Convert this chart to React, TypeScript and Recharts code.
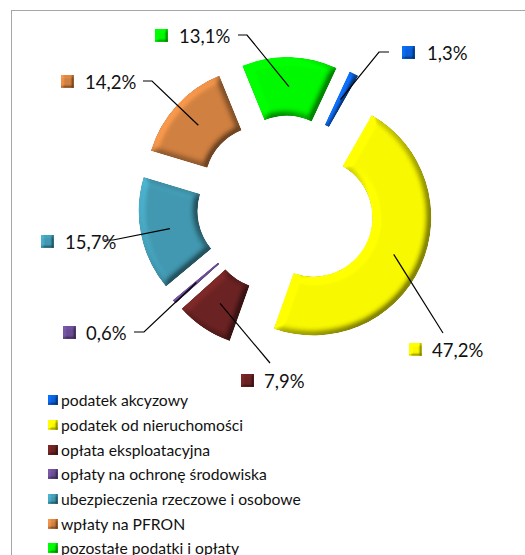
import React from "react"
import { PieChart, Pie, Legend, Sector } from "recharts"

const categories = [
  "podatek akcyzowy",
  "podatek od nieruchomości",
  "opłata eksploatacyjna",
  "opłaty na ochronę środowiska",
  "ubezpieczenia rzeczowe i osobowe",
  "wpłaty na PFRON",
  "pozostałe podatki i opłaty",
]
const shares = [1.3, 47.2, 7.9, 0.6, 15.7, 14.2, 13.1]
const colors = ["#0a5fd8", "#f8f800", "#6b2222", "#6a4c93", "#4198b0", "#d08040", "#00f800"]

// label box placement, relative to the chart: marker x, text y, elbow and so on
const labelSpots = [
  { mx: 402, ty: 53, tx: 427, elbow: [379, 52], end: [389, 52] },
  { mx: 409, ty: 350, tx: 432, elbow: null, end: [443, 333] },
  { mx: 241, ty: 381, tx: 264, elbow: null, end: [270, 363] },
  { mx: 63, ty: 333, tx: 86, elbow: [144, 332], end: [134, 332] },
  { mx: 41, ty: 242, tx: 65, elbow: [113, 240], end: [104, 240] },
  { mx: 61, ty: 82, tx: 85, elbow: [152, 81], end: [143, 81] },
  { mx: 155, ty: 36, tx: 179, elbow: [247, 35], end: [238, 35] },
]

const tableData = categories.map((name, i) => ({ name, value: shares[i], fill: colors[i] }))

const EXPLODE = 30
const RADIAN = Math.PI / 180
const FONT = "Lato, Carlito, sans-serif"

const explode = (midAngle: number) => ({
  dx: EXPLODE * Math.cos(-midAngle * RADIAN),
  dy: EXPLODE * Math.sin(-midAngle * RADIAN),
})

const BevelSlice = (props: any) => {
  const { dx, dy } = explode(props.midAngle)
  return (
    <Sector
      cx={props.cx + dx}
      cy={props.cy + dy}
      innerRadius={props.innerRadius}
      outerRadius={props.outerRadius}
      startAngle={props.startAngle}
      endAngle={props.endAngle}
      fill={props.fill}
      stroke="none"
      filter="url(#bevel)"
    />
  )
}

const renderLabel = (props: any) => {
  const { cx, cy, midAngle, innerRadius, outerRadius, index } = props
  const { dx, dy } = explode(midAngle)
  const r = (innerRadius + outerRadius) / 2
  const x = cx + dx + r * Math.cos(-midAngle * RADIAN)
  const y = cy + dy + r * Math.sin(-midAngle * RADIAN)
  const spot = labelSpots[index]
  const pts = [[x, y], spot.elbow, spot.end].filter(Boolean) as number[][]
  return (
    <g key={index}>
      <polyline points={pts.map((p) => p.join(",")).join(" ")} fill="none" stroke="#000" strokeWidth={1.2} />
      <rect x={spot.mx} y={spot.ty - 7} width={13} height={13} fill={colors[index]} filter="url(#bevelSmall)" />
      <text x={spot.tx} y={spot.ty} fontFamily={FONT} fontSize={18.5} fill="#111" dominantBaseline="central">
        {shares[index].toFixed(1).replace(".", ",") + "%"}
      </text>
    </g>
  )
}

const renderLegend = ({ payload }: any) => (
  <div style={{ fontFamily: FONT, fontSize: 15.7, color: "#111" }}>
    {payload.map((entry: any, i: number) => (
      <div key={i} style={{ height: 24.7, display: "flex", alignItems: "center" }}>
        <svg width={10} height={10} style={{ marginRight: 3, flex: "none" }}>
          <rect width={10} height={10} fill={colors[i]} filter="url(#bevelSmall)" />
        </svg>
        <span style={{ whiteSpace: "nowrap" }}>{entry.value}</span>
      </div>
    ))}
  </div>
)

export default function App() {
  return (
    <div style={{ position: "absolute", left: 0, top: 0, width: 525, height: 555, overflow: "hidden", background: "#fff" }}>
      <svg width={0} height={0} style={{ position: "absolute" }}>
        <defs>
          <filter id="bevel" x="-25%" y="-25%" width="150%" height="150%" colorInterpolationFilters="sRGB">
            <feGaussianBlur in="SourceAlpha" stdDeviation={3.5} result="blur" />
            <feDiffuseLighting in="blur" surfaceScale={6} diffuseConstant={1} lightingColor="#fff" result="diff">
              <feDistantLight azimuth={215} elevation={45} />
            </feDiffuseLighting>
            <feComposite in="SourceGraphic" in2="diff" operator="arithmetic" k1={0.64} k2={0.55} result="lit" />
            <feComposite in="lit" in2="SourceAlpha" operator="in" />
          </filter>
          <filter id="bevelSmall" x="0" y="0" width="100%" height="100%" colorInterpolationFilters="sRGB">
            <feGaussianBlur in="SourceAlpha" stdDeviation={1.5} result="blur" />
            <feDiffuseLighting in="blur" surfaceScale={3} diffuseConstant={1} lightingColor="#fff" result="diff">
              <feDistantLight azimuth={215} elevation={45} />
            </feDiffuseLighting>
            <feComposite in="SourceGraphic" in2="diff" operator="arithmetic" k1={0.64} k2={0.55} result="lit" />
            <feComposite in="lit" in2="SourceAlpha" operator="in" />
          </filter>
        </defs>
      </svg>
      <div
        style={{
          position: "absolute",
          left: 11,
          top: 10,
          width: 530,
          height: 560,
          border: "1.5px solid #a6a6a6",
          boxSizing: "border-box",
        }}
      />
      <PieChart width={525} height={555} margin={{ top: 0, right: 0, bottom: 0, left: 0 }} style={{ position: "absolute", left: 0, top: 0 }}>
        <Pie
          data={tableData}
          dataKey="value"
          nameKey="name"
          cx={286}
          cy={205}
          innerRadius={59}
          outerRadius={118}
          startAngle={65}
          endAngle={-295}
          stroke="none"
          shape={BevelSlice}
          label={renderLabel}
          labelLine={false}
          isAnimationActive={false}
        />
        <Legend
          content={renderLegend}
          layout="vertical"
          align="center"
          verticalAlign="middle"
          itemSorter={null}
          wrapperStyle={{ left: 48, top: 388, width: 300 }}
        />
      </PieChart>
    </div>
  )
}
